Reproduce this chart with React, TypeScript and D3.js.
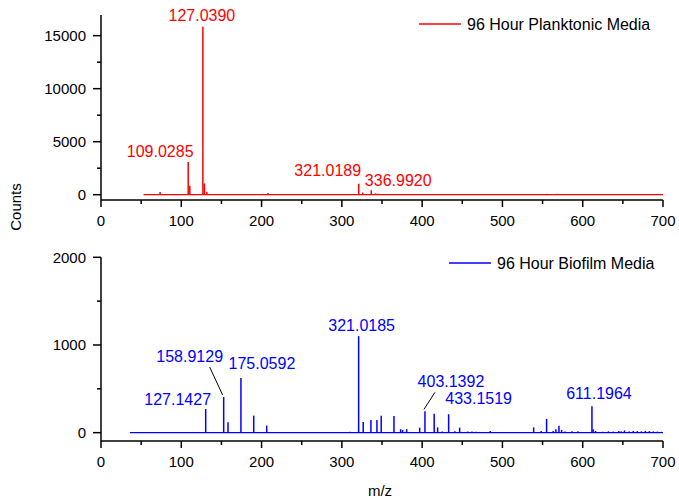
import React, { useEffect, useRef } from 'react';
import * as d3 from 'd3';

// m/z ticks
const xTicks = [0, 100, 200, 300, 400, 500, 600, 700];
const xMinorTicks = [50, 150, 250, 350, 450, 550, 650];

// planktonic (top, red)
const planktonicName = '96 Hour Planktonic Media';
const planktonicStart = 53;
const planktonicPeaks: [number, number][] = [
  [73.6, 250], [108.6, 3080], [110.6, 850], [126.9, 15850], [128.8, 1070], [131.8, 280],
  [208, 150], [246, 60], [321.0, 1040], [326, 200], [336.6, 420], [342, 120], [346, 80],
  [350, 60], [420, 50], [455, 50], [520, 60], [555, 80], [560, 60], [568, 80], [575, 60],
  [580, 50], [590, 60], [615, 50], [630, 60], [648, 50], [660, 60], [672, 50], [685, 60],
  [695, 50],
];
const planktonicLabels: [number, string][] = [
  [126.9, '127.0390'], [108.6, '109.0285'], [321.0, '321.0189'], [336.6, '336.9920'],
];
const planktonicYTicks = [0, 5000, 10000, 15000];
const planktonicYMinor = [2500, 7500, 12500];

// biofilm (bottom, blue)
const biofilmName = '96 Hour Biofilm Media';
const biofilmStart = 36;
const biofilmPeaks: [number, number][] = [
  [130.4, 270], [152.8, 406], [158.2, 120], [174.3, 623], [190.2, 194], [206.4, 80],
  [310.5, 10], [320.9, 1101], [326.6, 122], [336.2, 145], [343.7, 145], [349, 194],
  [364.9, 190], [373.2, 40], [375.7, 30], [380.7, 40], [396.9, 57], [403.5, 243],
  [415, 217], [419.3, 60], [425, 12], [433, 210], [440.8, 15], [446.7, 57], [457, 12],
  [462, 12], [467, 10], [484.8, 20], [538.9, 60], [548.3, 20], [555, 157], [563.3, 20],
  [566.6, 40], [570.4, 80], [573.7, 30], [578, 12], [586.6, 15], [594, 15], [611.5, 300],
  [613, 40], [616, 20], [625, 10], [632, 15], [638, 12], [645, 20], [648, 15], [652, 25],
  [658, 15], [663, 20], [668, 18], [673, 15], [678, 20], [683, 18], [688, 15], [693, 12],
  [698, 10],
];
const biofilmLabels: [number, string][] = [
  [320.9, '321.0185'], [152.8, '158.9129'], [174.3, '175.0592'], [130.4, '127.1427'],
  [403.5, '403.1392'], [433, '433.1519'], [611.5, '611.1964'],
];
const biofilmYTicks = [0, 1000, 2000];
const biofilmYMinor = [500, 1500];

// label offsets in px (dx from peak, dy from peak top), leader = draw a line
const labelOffsets: Record<string, { dx: number; dy: number; leader?: boolean }> = {
  '127.0390': { dx: -1, dy: -6 },
  '109.0285': { dx: -28, dy: -5 },
  '321.0189': { dx: -31, dy: -8 },
  '336.9920': { dx: 27, dy: -4 },
  '321.0185': { dx: 3, dy: -5 },
  '158.9129': { dx: -34, dy: -35, leader: true },
  '175.0592': { dx: 21, dy: -9 },
  '127.1427': { dx: -28, dy: -4 },
  '403.1392': { dx: 26, dy: -24, leader: true },
  '433.1519': { dx: 30, dy: -10 },
  '611.1964': { dx: 7, dy: -7 },
};

const W = 679;
const H = 502;
const FONT = 'Liberation Sans, Arial, sans-serif';

const App = () => {
  const svgRef = useRef<SVGSVGElement>(null);

  useEffect(() => {
    const svg = d3.select(svgRef.current);
    svg.selectAll('*').remove();

    const x = d3.scaleLinear().domain([0, 700]).range([101, 663]);

    const panels = [
      {
        name: planktonicName, color: '#ff0000', start: planktonicStart, peaks: planktonicPeaks,
        labels: planktonicLabels, yTicks: planktonicYTicks, yMinor: planktonicYMinor,
        y: d3.scaleLinear().domain([-500, 16950]).range([200, 15]),
        legendY: 24, legendX: 419,
      },
      {
        name: biofilmName, color: '#0000ff', start: biofilmStart, peaks: biofilmPeaks,
        labels: biofilmLabels, yTicks: biofilmYTicks, yMinor: biofilmYMinor,
        y: d3.scaleLinear().domain([-95, 2000]).range([441, 257.3]),
        legendY: 263, legendX: 449,
      },
    ];

    panels.forEach((p) => {
      const g = svg.append('g');
      const [y0, y1] = p.y.range();

      // axes lines
      g.append('line').attr('x1', x.range()[0]).attr('x2', x.range()[1])
        .attr('y1', y0).attr('y2', y0).attr('stroke', '#000').attr('stroke-width', 1.5);
      g.append('line').attr('x1', x.range()[0]).attr('x2', x.range()[0])
        .attr('y1', y0).attr('y2', y1).attr('stroke', '#000').attr('stroke-width', 1.5);

      // x ticks
      g.selectAll('.xt').data(xTicks).enter().append('line')
        .attr('x1', (d) => x(d)).attr('x2', (d) => x(d))
        .attr('y1', y0).attr('y2', y0 + 7).attr('stroke', '#000').attr('stroke-width', 1.5);
      g.selectAll('.xm').data(xMinorTicks).enter().append('line')
        .attr('x1', (d) => x(d)).attr('x2', (d) => x(d))
        .attr('y1', y0).attr('y2', y0 + 4).attr('stroke', '#000').attr('stroke-width', 1.5);
      g.selectAll('.xl').data(xTicks).enter().append('text')
        .attr('x', (d) => x(d)).attr('y', y0 + 26)
        .attr('text-anchor', 'middle').style('font-size', '15px').style('font-family', FONT)
        .text((d) => d);

      // y ticks
      g.selectAll('.yt').data(p.yTicks).enter().append('line')
        .attr('x1', x.range()[0] - 8).attr('x2', x.range()[0])
        .attr('y1', (d) => p.y(d)).attr('y2', (d) => p.y(d)).attr('stroke', '#000').attr('stroke-width', 1.5);
      g.selectAll('.ym').data(p.yMinor).enter().append('line')
        .attr('x1', x.range()[0] - 4).attr('x2', x.range()[0])
        .attr('y1', (d) => p.y(d)).attr('y2', (d) => p.y(d)).attr('stroke', '#000').attr('stroke-width', 1.5);
      g.selectAll('.yl').data(p.yTicks).enter().append('text')
        .attr('x', x.range()[0] - 15).attr('y', (d) => p.y(d) + 5.5)
        .attr('text-anchor', 'end').style('font-size', '15px').style('font-family', FONT)
        .text((d) => d);

      // spectrum baseline + sticks
      g.append('line').attr('x1', x(p.start)).attr('x2', x(700))
        .attr('y1', p.y(0)).attr('y2', p.y(0)).attr('stroke', p.color).attr('stroke-width', 1.3);
      g.selectAll('.pk').data(p.peaks).enter().append('line')
        .attr('x1', (d) => x(d[0])).attr('x2', (d) => x(d[0]))
        .attr('y1', p.y(0)).attr('y2', (d) => p.y(d[1]))
        .attr('stroke', p.color).attr('stroke-width', 1.5);

      // peak labels
      p.labels.forEach(([mz, txt]) => {
        const peak = p.peaks.find((d) => d[0] === mz)!;
        const o = labelOffsets[txt];
        const px = x(mz);
        const py = p.y(peak[1]);
        g.append('text').attr('x', px + o.dx).attr('y', py + o.dy)
          .attr('text-anchor', 'middle').style('font-size', '16px').style('font-family', FONT)
          .attr('fill', p.color).text(txt);
        if (o.leader) {
          const lx = px + o.dx + (o.dx < 0 ? 20 : -16);
          g.append('line').attr('x1', lx).attr('y1', py + o.dy + 5)
            .attr('x2', px - 1).attr('y2', py - 2)
            .attr('stroke', '#000').attr('stroke-width', 1);
        }
      });

      // legend
      g.append('line').attr('x1', p.legendX).attr('x2', p.legendX + 42)
        .attr('y1', p.legendY).attr('y2', p.legendY).attr('stroke', p.color).attr('stroke-width', 1.3);
      g.append('text').attr('x', p.legendX + 48).attr('y', p.legendY + 6)
        .style('font-size', '16px').style('font-family', FONT).text(p.name);
    });

    svg.append('text').attr('transform', 'translate(21,207) rotate(-90)')
      .attr('text-anchor', 'middle').style('font-size', '15px').style('font-family', FONT)
      .text('Counts');
    svg.append('text').attr('x', 380).attr('y', 496)
      .attr('text-anchor', 'middle').style('font-size', '15px').style('font-family', FONT)
      .text('m/z');
  }, []);

  return (
    <svg ref={svgRef} width={W} height={H}
      style={{ position: 'absolute', left: 0, top: 0, background: '#fff' }} />
  );
};

export default App;
